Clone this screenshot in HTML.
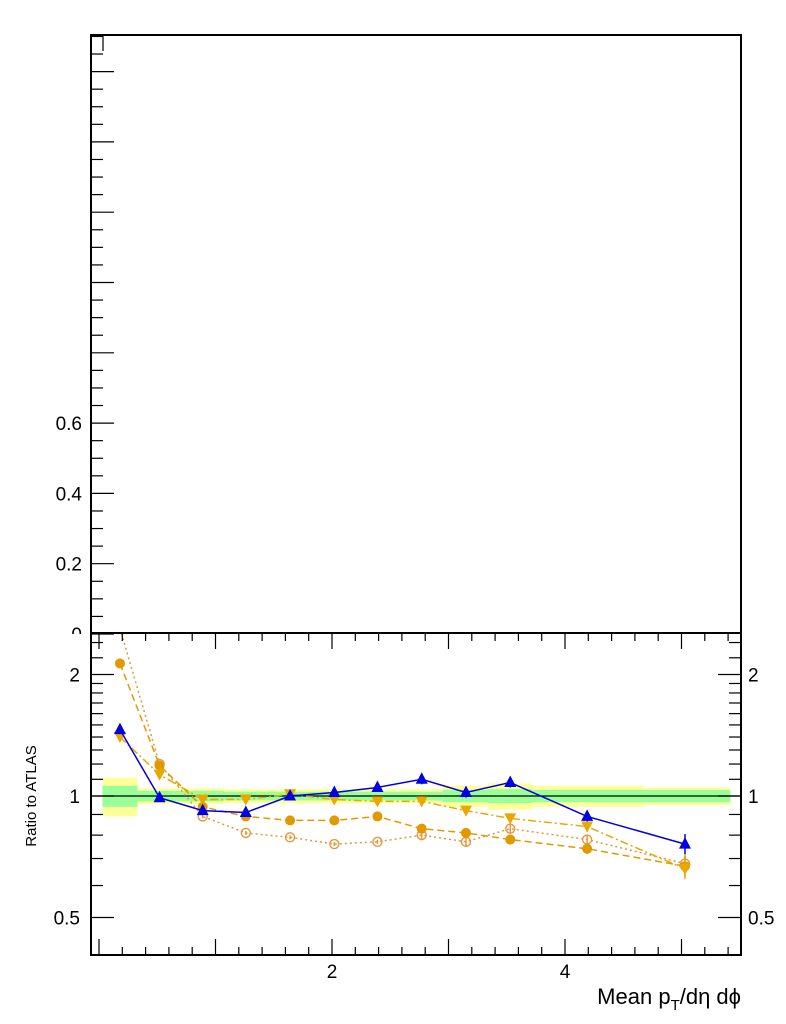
<!DOCTYPE html>
<html><head><meta charset="utf-8"><style>
body{margin:0;background:#fff;}
svg{display:block;font-family:"Liberation Sans",sans-serif;}
</style></head><body>
<svg id="c" width="786" height="1024"></svg>
<script>
const xs=[0.18,0.52,0.89,1.26,1.64,2.02,2.39,2.77,3.15,3.53,4.19,5.03];
const blueTri=[1.46,0.99,0.92,0.91,1.00,1.02,1.05,1.10,1.02,1.08,0.89,0.76];
const fullCirc=[2.13,1.19,0.94,0.89,0.87,0.87,0.89,0.83,0.81,0.78,0.74,0.67];
const openCirc=[2.6,1.20,0.89,0.81,0.79,0.76,0.77,0.80,0.77,0.83,0.78,0.68];
const downTri=[1.40,1.13,0.98,0.98,1.01,0.98,0.97,0.97,0.92,0.88,0.84,0.66];
const binEdges=[0.03,0.33,1.07,1.98,2.95,3.34,3.72,4.67,5.42];
const yellowHalf=[0.11,0.045,0.04,0.04,0.06,0.075,0.06,0.05,0.14];
const greenHalf=[0.06,0.03,0.025,0.025,0.035,0.04,0.035,0.035,0.07];
const upperTicks=["0","0.2","0.4","0.6"];
const lowerTicks=[2,1,0.5];
const NS="http://www.w3.org/2000/svg",svg=document.getElementById('c');
function el(t,a,p){const e=document.createElementNS(NS,t);for(const k in a)e.setAttribute(k,a[k]);(p||svg).appendChild(e);return e;}
const X=v=>99+116.5*v;
const YU=v=>634-351.5*v;
const YL=v=>796-121.5*Math.log2(v);
const clip=el('clipPath',{id:'lc'},el('defs',{}));el('rect',{x:91,y:633,width:650,height:322},clip);
const g=el('g',{'clip-path':'url(#lc)'});

for(let i=0;i<yellowHalf.length;i++){
 const x0=X(binEdges[i]),x1=X(binEdges[i+1]);
 const y=el('rect',{x:x0,y:YL(1+yellowHalf[i]),width:x1-x0,height:YL(1-yellowHalf[i])-YL(1+yellowHalf[i]),fill:'#ffff99'},g);
 
 const gr=el('rect',{x:x0,y:YL(1+greenHalf[i]),width:x1-x0,height:YL(1-greenHalf[i])-YL(1+greenHalf[i]),fill:'#99ff99'},g);
 
}
el('line',{x1:91,x2:741,y1:YL(1),y2:YL(1),stroke:'#000','stroke-width':1.2},g);
const series=[
 {d:openCirc,c:'#e8963c',dash:'2,3',m:'open',n:'series-open-circle'},
 {d:fullCirc,c:'#e09a00',dash:'7,4',m:'circle',n:'series-filled-circle'},
 {d:downTri,c:'#e8a800',dash:'8,3,2,3',m:'down',n:'series-down-triangle'},
 {d:blueTri,c:'#0000e0',dash:'',m:'up',n:'series-blue-triangle'}];
series.forEach(s=>{
 const sg=el('g',{},g);
 el('polyline',{points:s.d.map((v,i)=>X(xs[i])+','+YL(v)).join(' '),fill:'none',stroke:s.c,'stroke-width':1.5,'stroke-dasharray':s.dash},sg);
 s.d.forEach((v,i)=>{const x=X(xs[i]),y=YL(v);let m;
  const eb=i>=7?(i>=11?10:5):2;
  el('line',{x1:x,x2:x,y1:y-eb,y2:y+eb,stroke:s.c,'stroke-width':1.5},sg);
  if(s.m=='up')m=el('polygon',{points:`${x},${y-7} ${x-6},${y+4.5} ${x+6},${y+4.5}`,fill:s.c},sg);
  else if(s.m=='down')m=el('polygon',{points:`${x},${y+6} ${x-6},${y-5} ${x+6},${y-5}`,fill:s.c},sg);
  else if(s.m=='circle')m=el('circle',{cx:x,cy:y,r:5,fill:s.c},sg);
  else m=el('circle',{cx:x,cy:y,r:4.5,fill:'none',stroke:s.c,'stroke-width':1.4},sg);
  });
});
el('rect',{x:91,y:35,width:650,height:598,fill:'none',stroke:'#000','stroke-width':2});
for(let k=0;k<=34;k++){const v=k*0.05,y=YU(v);if(y<35)break;const maj=k%4==0;
 el('line',{x1:91,x2:maj?114:103,y1:y,y2:y,stroke:'#000','stroke-width':1.2});}
upperTicks.forEach((t,i)=>{const e=el('text',{x:82,y:YU(i*0.2)+7,'font-size':19,'text-anchor':'end'});e.textContent=t;
 });
el('rect',{x:40,y:634,width:50,height:10,fill:'#fff'});
el('rect',{x:91,y:633,width:650,height:322,fill:'none',stroke:'#000','stroke-width':2});
const minor=[0.5,0.6,0.7,0.8,0.9,1,1.1,1.2,1.3,1.4,1.5,1.6,1.7,1.8,1.9,2,2.2,2.4];
minor.forEach(v=>{const y=YL(v),maj=lowerTicks.includes(v);
 el('line',{x1:91,x2:maj?114:103,y1:y,y2:y,stroke:'#000','stroke-width':1.2});
 el('line',{x1:741,x2:maj?718:729,y1:y,y2:y,stroke:'#000','stroke-width':1.2});});
lowerTicks.forEach(v=>{
 const a=el('text',{x:80,y:YL(v)+7,'font-size':19,'text-anchor':'end'});a.textContent=String(v);
 
 const b=el('text',{x:748,y:YL(v)+7,'font-size':19});b.textContent=String(v);
 });
for(let k=0;k<=27;k++){const v=k*0.2,x=X(v);if(x>741)break;const maj=k%5==0;
 el('line',{x1:x,x2:x,y1:955,y2:maj?939:947,stroke:'#000','stroke-width':1.2});
 el('line',{x1:x,x2:x,y1:633,y2:maj?649:641,stroke:'#000','stroke-width':1.2});}
el('line',{x1:103,x2:103,y1:35,y2:51,stroke:'#000','stroke-width':1.2});
[2,4].forEach(v=>{const e=el('text',{x:X(v),y:978,'font-size':19,'text-anchor':'middle'});e.textContent=v;
 });
const xt=el('text',{x:741,y:1004,'font-size':22,'text-anchor':'end'});
xt.innerHTML='Mean p<tspan font-size="15" dy="6">T</tspan><tspan dy="-6">/dη dϕ</tspan>';

const yt=el('text',{x:0,y:0,'font-size':15,'text-anchor':'middle',transform:'translate(36,796) rotate(-90)'});
yt.textContent='Ratio to ATLAS';

</script>
</body></html>
